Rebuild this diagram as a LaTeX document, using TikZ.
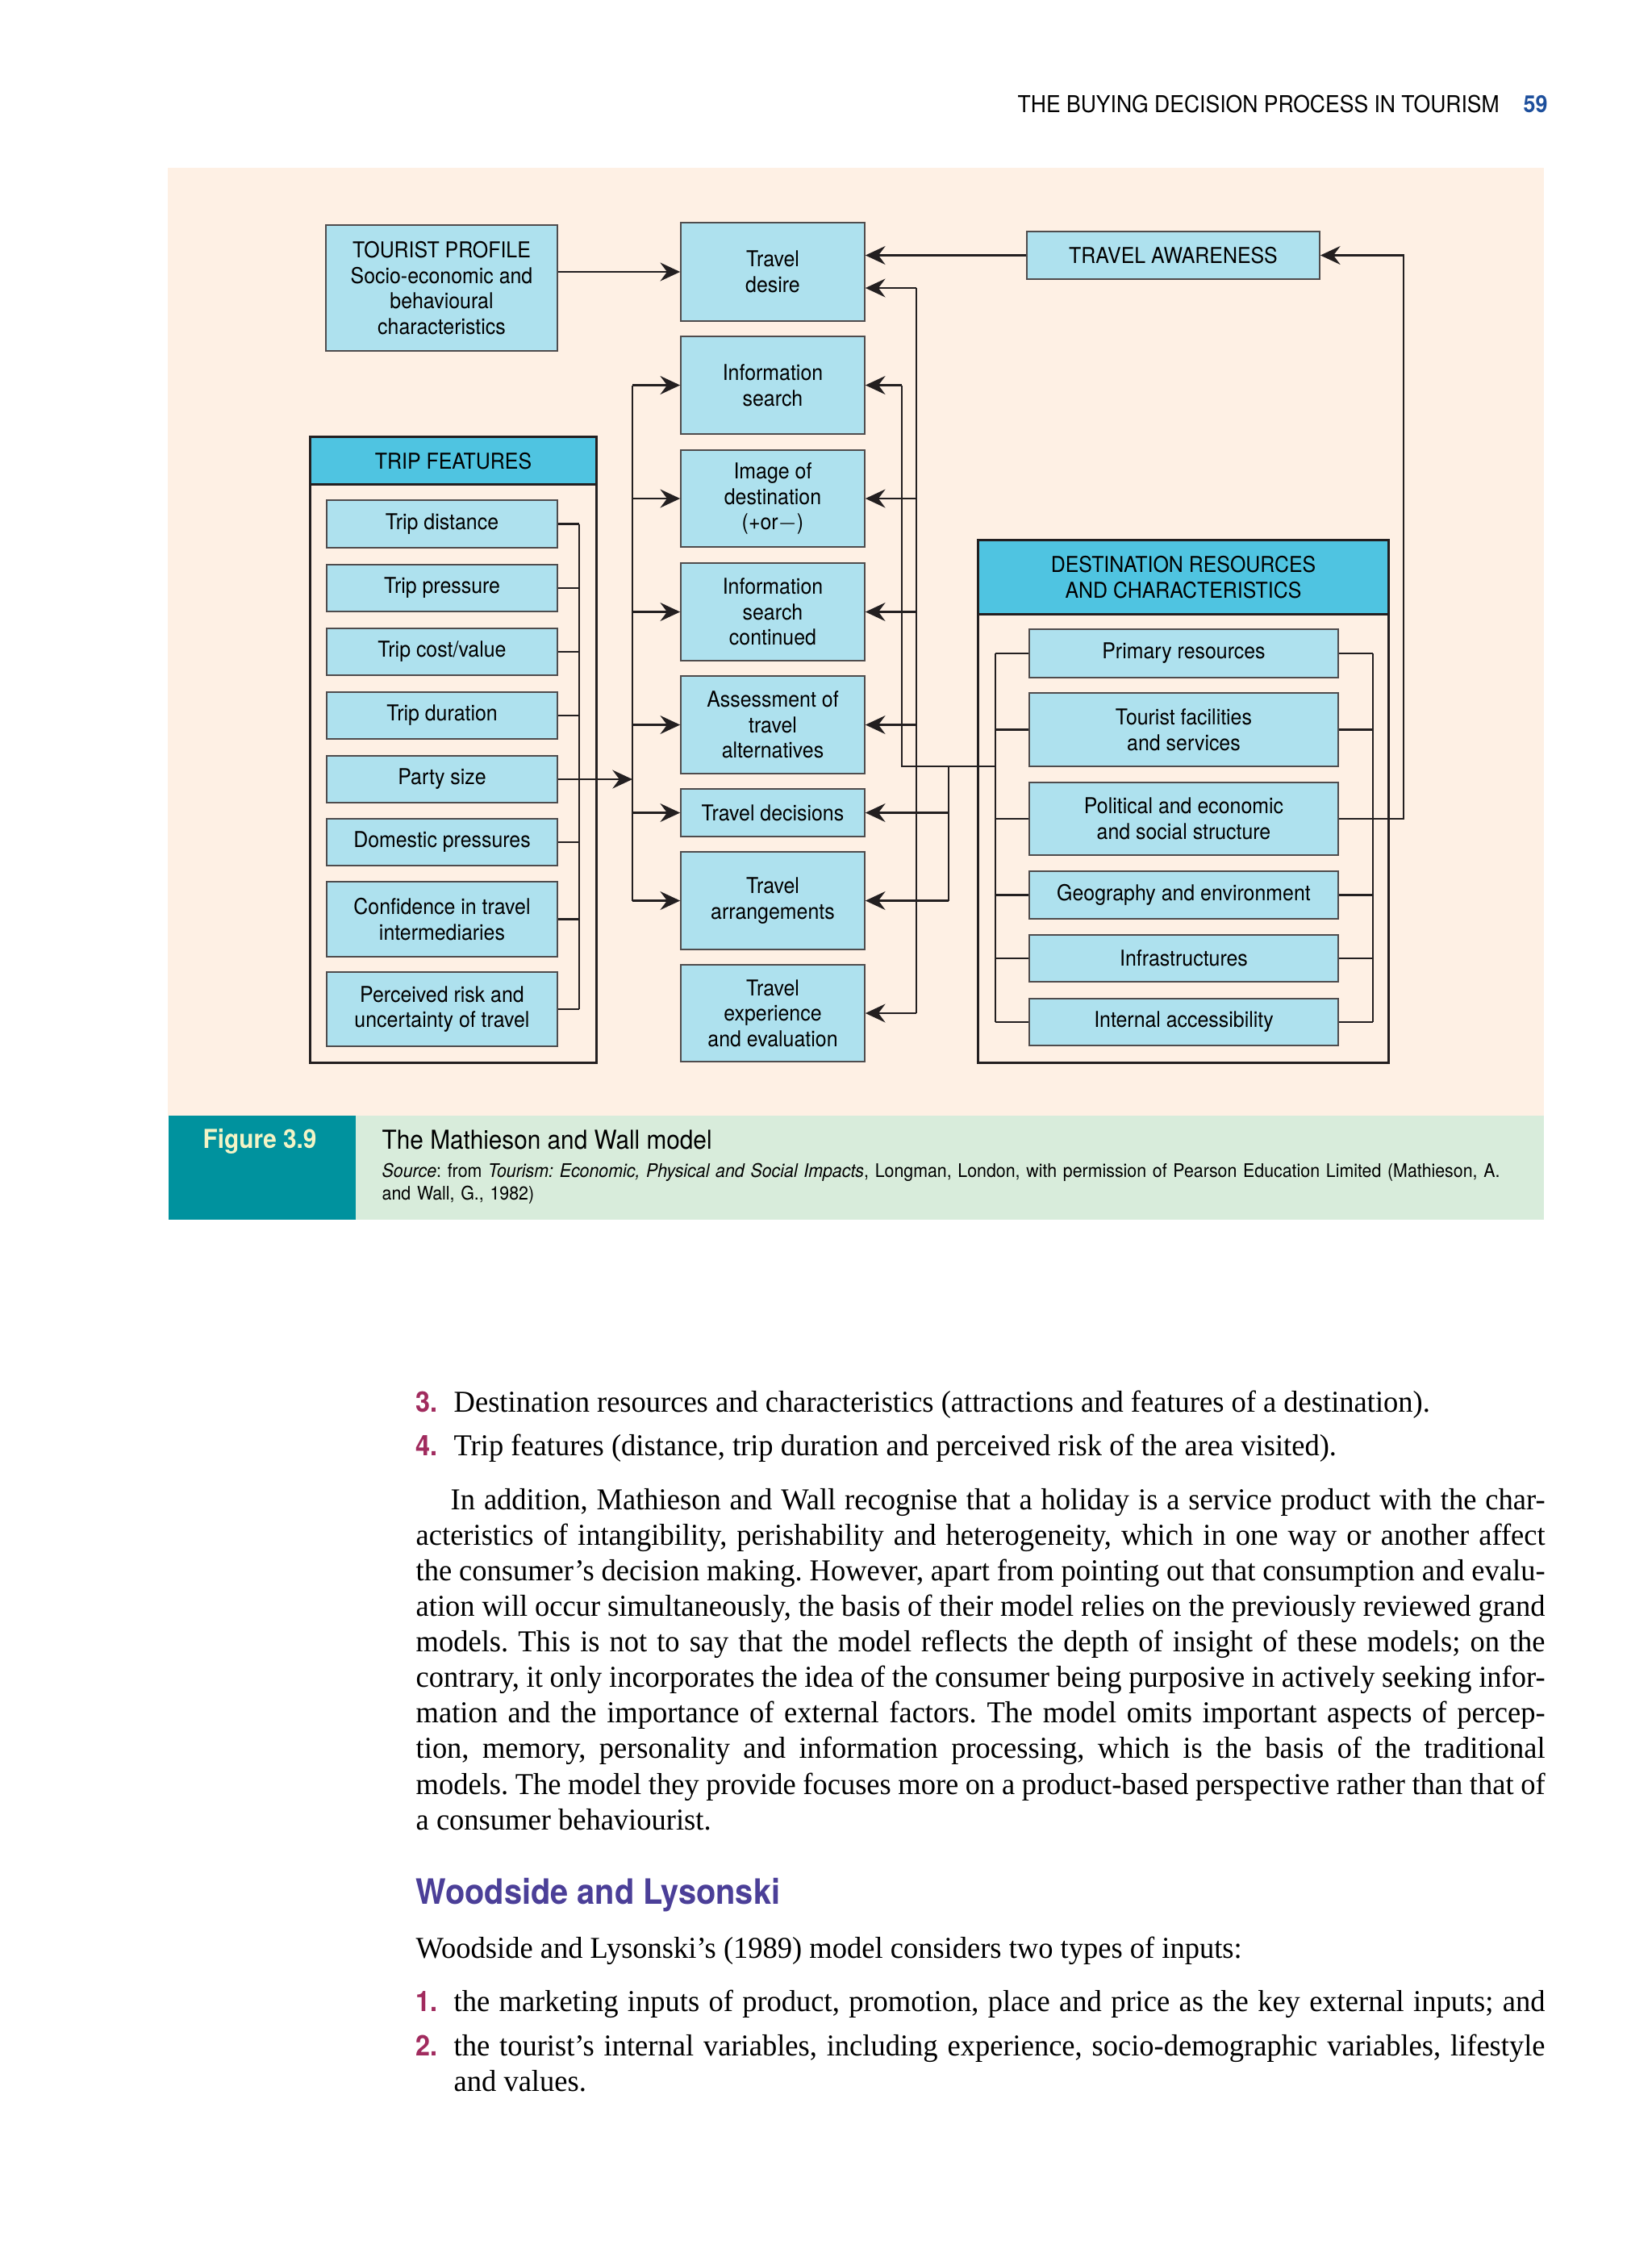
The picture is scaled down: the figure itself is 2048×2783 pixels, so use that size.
\documentclass[tikz,border=0pt]{standalone}
\usepackage{fontspec}
\setmainfont[FakeStretch=0.97]{Liberation Serif}
\setsansfont[FakeStretch=0.92]{TeX Gyre Heros}
\usetikzlibrary{arrows.meta,calc}

\definecolor{peach}{HTML}{FEF0E4}
\definecolor{boxblue}{HTML}{AEE1EE}
\definecolor{headblue}{HTML}{4FC4E1}
\definecolor{capgreen}{HTML}{D8ECDB}
\definecolor{figteal}{HTML}{00929E}
\definecolor{figyellow}{HTML}{F3F4C6}
\definecolor{pageblue}{HTML}{1D4F9C}
\definecolor{headpurple}{HTML}{4B3F98}
\definecolor{numred}{HTML}{A12B5E}
\definecolor{ink}{HTML}{231F20}

\tikzset{
  box/.style={draw=ink!80, line width=0.45pt, fill=boxblue, align=center, inner sep=0pt,
    font=\sffamily\fontsize{7.7}{9}\selectfont},
  frame/.style={draw=ink, line width=0.9pt, inner sep=0pt},
  headbox/.style={draw=ink, line width=0.9pt, fill=headblue, align=center, inner sep=0pt,
    font=\sffamily\fontsize{7.7}{9}\selectfont},
  wire/.style={draw=ink, line width=0.8pt},
  arr/.style={wire, -{Stealth[length=7pt, width=6.5pt, inset=2.4pt]}},
  body/.style={inner sep=0pt, anchor=base west, font=\frenchspacing\fontsize{10.7}{12.55}\selectfont},
  itemno/.style={inner sep=0pt, anchor=base west, text=numred, font=\sffamily\bfseries\fontsize{10}{12}\selectfont}
}

\begin{document}
\begin{tikzpicture}[x=0.01cm, y=-0.01cm]
    \fill[white] (0,0) rectangle (2048,2783);
    \useasboundingbox (0,0) rectangle (2048,2783);

    % running head
    \node[inner sep=0pt, anchor=base west, font=\sffamily\fontsize{8.2}{10}\selectfont] (runhead) at (1261,139) {THE BUYING DECISION PROCESS IN TOURISM};
    \node[inner sep=0pt, anchor=base west, text=pageblue, font=\sffamily\bfseries\fontsize{8.3}{10}\selectfont] (pageno) at (1888,139) {59};

    % figure panel
    \fill[peach] (208,208) rectangle (1914,1383);
    \fill[capgreen] (441,1383) rectangle (1914,1512);
    \fill[figteal] (209,1383) rectangle (441,1512);

    % frames
    \node[frame, minimum width=3.54cm, minimum height=7.75cm] (tripframe) at (562,929.5) {};
    \node[headbox, anchor=north, minimum width=3.54cm, minimum height=0.59cm] (triphead) at (tripframe.north) {TRIP FEATURES};
    \node[frame, minimum width=5.08cm, minimum height=6.47cm] (destframe) at (1467,993.5) {};
    \node[headbox, anchor=north, minimum width=5.08cm, minimum height=0.92cm] (desthead) at (destframe.north) {DESTINATION RESOURCES\\AND CHARACTERISTICS};

    \node[box, minimum width=2.87cm, minimum height=1.56cm] (profile) at (547.5,357) {TOURIST PROFILE\\Socio-economic and\\behavioural\\characteristics};
    \node[box, minimum width=3.63cm, minimum height=0.59cm] (aware) at (1454.5,316.5) {TRAVEL AWARENESS};

    % trip features
    \node[box, minimum width=2.86cm, minimum height=0.59cm] (dist) at (548,649.5) {Trip distance};
    \node[box, minimum width=2.86cm, minimum height=0.58cm] (press) at (548,729) {Trip pressure};
    \node[box, minimum width=2.86cm, minimum height=0.58cm] (cost) at (548,808) {Trip cost/value};
    \node[box, minimum width=2.86cm, minimum height=0.58cm] (dur) at (548,887) {Trip duration};
    \node[box, minimum width=2.86cm, minimum height=0.58cm] (party) at (548,966) {Party size};
    \node[box, minimum width=2.86cm, minimum height=0.58cm] (dom) at (548,1044) {Domestic pressures};
    \node[box, minimum width=2.86cm, minimum height=0.93cm] (conf) at (548,1139.5) {Confidence in travel\\intermediaries};
    \node[box, minimum width=2.86cm, minimum height=0.92cm] (risk) at (548,1251) {Perceived risk and\\uncertainty of travel};

    % decision stages
    \node[box, minimum width=2.28cm, minimum height=1.22cm] (desire) at (958,337) {Travel\\desire};
    \node[box, minimum width=2.28cm, minimum height=1.21cm] (search) at (958,477.5) {Information\\search};
    \node[box, minimum width=2.28cm, minimum height=1.20cm] (image) at (958,618) {Image of\\destination\\(+or$-$)};
    \node[box, minimum width=2.28cm, minimum height=1.21cm] (searchc) at (958,758.5) {Information\\search\\continued};
    \node[box, minimum width=2.28cm, minimum height=1.21cm] (assess) at (958,898.5) {Assessment of\\travel\\alternatives};
    \node[box, minimum width=2.28cm, minimum height=0.59cm] (decide) at (958,1007.5) {Travel decisions};
    \node[box, minimum width=2.28cm, minimum height=1.21cm] (arrange) at (958,1116.5) {Travel\\arrangements};
    \node[box, minimum width=2.28cm, minimum height=1.20cm] (exper) at (958,1256) {Travel\\experience\\and evaluation};

    % destination resources
    \node[box, minimum width=3.83cm, minimum height=0.60cm] (prim) at (1467.5,810) {Primary resources};
    \node[box, minimum width=3.83cm, minimum height=0.91cm] (fac) at (1467.5,904.5) {Tourist facilities\\and services};
    \node[box, minimum width=3.83cm, minimum height=0.90cm] (pol) at (1467.5,1015) {Political and economic\\and social structure};
    \node[box, minimum width=3.83cm, minimum height=0.59cm] (geo) at (1467.5,1109.5) {Geography and environment};
    \node[box, minimum width=3.83cm, minimum height=0.58cm] (infra) at (1467.5,1188) {Infrastructures};
    \node[box, minimum width=3.83cm, minimum height=0.58cm] (acc) at (1467.5,1267) {Internal accessibility};

    % bus lines
    \coordinate (tbus) at (718,0);
    \coordinate (lbus) at (784,0);
    \coordinate (ibus) at (1118,0);
    \coordinate (obus) at (1136,0);
    \coordinate (bbus) at (1176,0);
    \coordinate (dbus) at (1234,0);
    \coordinate (ebus) at (1702,0);
    \coordinate (rbus) at (1740,0);
    \coordinate (junc) at (1234,950);
    \coordinate (dlow) at ($(desire.east)+(0,20)$);

    \draw[arr] (profile.east |- desire) -- (desire.west);
    \draw[arr] (aware.west) -- (aware.west -| desire.east);

    \draw[wire] (dist.east -| tbus) -- (risk.east -| tbus);
    \foreach \n in {dist,press,cost,dur,dom,conf,risk}
        \draw[wire] (\n.east) -- (\n.east -| tbus);
    \draw[arr] (party.east) -- (party.east -| lbus);

    \draw[wire] (search.west -| lbus) -- (arrange.west -| lbus);
    \foreach \n in {search,image,searchc,assess,decide,arrange}
        \draw[arr] (\n.west -| lbus) -- (\n.west);

    \draw[wire] (dlow -| obus) -- (exper.east -| obus);
    \draw[arr] (dlow -| obus) -- (dlow);
    \foreach \n in {image,searchc,assess,exper}
        \draw[arr] (\n.east -| obus) -- (\n.east);
    \draw[wire] (search.east -| ibus) -- (junc -| ibus) -- (junc);
    \draw[arr] (search.east -| ibus) -- (search.east);
    \draw[wire] (junc -| bbus) -- (arrange.east -| bbus);
    \foreach \n in {decide,arrange}
        \draw[arr] (\n.east -| bbus) -- (\n.east);

    \draw[wire] (prim.west -| dbus) -- (acc.west -| dbus);
    \draw[wire] (prim.east -| ebus) -- (acc.east -| ebus);
    \foreach \n in {prim,fac,pol,geo,infra,acc} {
        \draw[wire] (\n.west -| dbus) -- (\n.west);
        \draw[wire] (\n.east) -- (\n.east -| ebus);
    }
    \draw[arr] (pol.east -| ebus) -- (pol.east -| rbus) |- (aware.east);

    % caption
    \node[inner sep=0pt, anchor=base west, text=figyellow, font=\sffamily\bfseries\fontsize{9.2}{11}\selectfont] (figno) at (251,1423) {Figure 3.9};
    \node[inner sep=0pt, anchor=base west, font=\sffamily\fontsize{9.2}{11}\selectfont] (figtitle) at (473,1424) {The Mathieson and Wall model};
    \node[inner sep=0pt, anchor=base west, text width=14.6cm, align=left, font=\frenchspacing\sffamily\fontsize{6.6}{8.2}\selectfont] (figsource) at (473,1459)
        {\textit{Source}: from \textit{Tourism: Economic, Physical and Social Impacts}, Longman, London, with permission of Pearson Education Limited (Mathieson, A.\\and Wall, G., 1982)};

    % text
    \node[itemno] (n3) at (515,1750) {3.};
    \node[body] (t3) at (562,1750) {Destination resources and characteristics (attractions and features of a destination).};
    \node[itemno] (n4) at (515,1804) {4.};
    \node[body] (t4) at (562,1804) {Trip features (distance, trip duration and perceived risk of the area visited).};

    \node[body, text width=13.99cm, align=justify] (para) at (515,1871)
        {\hspace*{0.43cm}In addition, Mathieson and Wall recognise that a holiday is a service product with the char-\linebreak
        acteristics of intangibility, perishability and heterogeneity, which in one way or another affect\linebreak
        the consumer’s decision making. However, apart from pointing out that consumption and evalu-\linebreak
        ation will occur simultaneously, the basis of their model relies on the previously reviewed grand\linebreak
        models. This is not to say that the model reflects the depth of insight of these models; on the\linebreak
        contrary, it only incorporates the idea of the consumer being purposive in actively seeking infor-\linebreak
        mation and the importance of external factors. The model omits important aspects of percep-\linebreak
        tion, memory, personality and information processing, which is the basis of the traditional\linebreak
        models. The model they provide focuses more on a product-based perspective rather than that of\linebreak
        a consumer behaviourist.};

    \node[inner sep=0pt, anchor=base west, text=headpurple, font=\sffamily\bfseries\fontsize{12.3}{14}\selectfont] (heading) at (515,2360) {Woodside and Lysonski};
    \node[body] (intro) at (515,2427) {Woodside and Lysonski’s (1989) model considers two types of inputs:};
    \node[itemno] (n1) at (515,2493) {1.};
    \node[body, text width=13.52cm, align=justify] (t1) at (562,2493) {\parfillskip=0pt the marketing inputs of product, promotion, place and price as the key external inputs; and\par};
    \node[itemno] (n2) at (515,2548) {2.};
    \node[body, text width=13.52cm, align=justify] (t2) at (562,2548) {the tourist’s internal variables, including experience, socio-demographic variables, lifestyle\linebreak and values.};

\end{tikzpicture}
\end{document}
